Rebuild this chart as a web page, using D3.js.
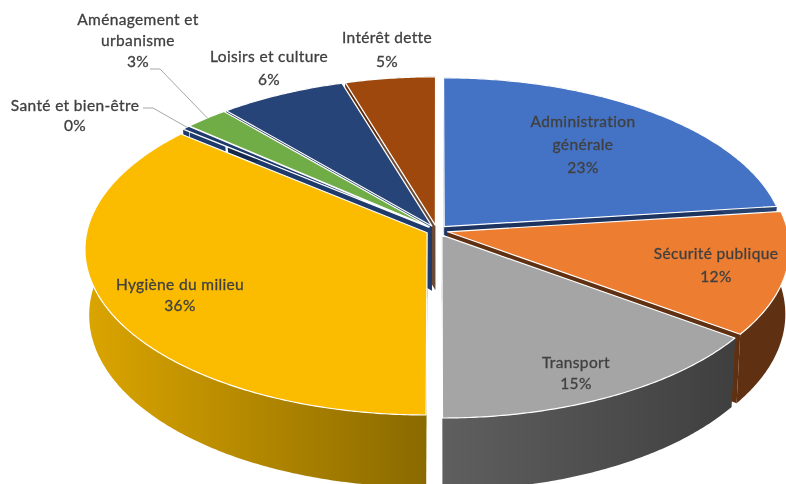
<!DOCTYPE html>
<html lang="fr">
<head>
<meta charset="utf-8">
<title>Répartition des dépenses</title>
<script src="https://cdn.jsdelivr.net/npm/d3@7"></script>
<style>
  html, body { margin: 0; padding: 0; background: #fff; }
  svg { display: block; filter: blur(0.45px); }
  .pie__label { font-family: Lato, "Open Sans", sans-serif; font-size: 15.5px; letter-spacing: 0.35px; fill: #404040; stroke: #404040; stroke-width: 0.3px; text-anchor: middle; }
</style>
</head>
<body>
<div id="chart"></div>
<script>
const categories = ["Administration générale", "Sécurité publique", "Transport", "Hygiène du milieu", "Santé et bien-être", "Aménagement et urbanisme", "Loisirs et culture", "Intérêt dette"]
// slice sizes as measured on the picture, printed percentages as written on it
const shares = [23, 12, 15, 36, 0.4, 2.3, 6.6, 4.7]
const percents = [23, 12, 15, 36, 0, 3, 6, 5]
const top_colors = ["#4472c4", "#ed7d31", "#a5a5a5", "#fbbc00", "#1f3b6b", "#70ad47", "#264478", "#9e480e"]

const width = 786, height = 484
const cx = 437, cy = 230.5
const radius_x = 340, radius_y = 164
const perspective = 0.0976, depth = 65, taper = 0.012, explode = 0.032

// label layout, one row per category: centre x and the baseline of each line
const label_layout = [
    { x: 583, lines: ["Administration", "générale"], y: 127, step: 23 },
    { x: 716, lines: ["Sécurité publique"], y: 259, step: 23 },
    { x: 576, lines: ["Transport"], y: 368, step: 21 },
    { x: 180, lines: ["Hygiène du milieu"], y: 290, step: 21 },
    { x: 75, lines: ["Santé et bien-être"], y: 111, step: 20 },
    { x: 138, lines: ["Aménagement et", "urbanisme"], y: 25, step: 21 },
    { x: 269, lines: ["Loisirs et culture"], y: 62, step: 23 },
    { x: 387, lines: ["Intérêt dette"], y: 43, step: 24 }
]
const leaders = { 4: [143, 108, 153, 108], 5: [150, 69, 160, 69] }

const svg = d3.select("#chart").append("svg")
    .attr("width", width)
    .attr("height", height)
    .attr("viewBox", `0 0 ${width} ${height}`)
const defs = svg.append("defs")

/* GRADIENTS FOR THE OUTER WALLS */
function wallGradient(id, x1, x2, from, to) {
    const gradient = defs.append("linearGradient")
        .attr("id", id)
        .attr("gradientUnits", "userSpaceOnUse")
        .attr("x1", x1).attr("x2", x2)
        .attr("y1", 0).attr("y2", 0)
    gradient.append("stop").attr("offset", "0%").attr("stop-color", from)
    gradient.append("stop").attr("offset", "100%").attr("stop-color", to)
    return `url(#${id})`
}
const wall_colors = [
    "#27426f",
    "#5f3011",
    wallGradient("wall-transport", 441, 735, "#5f5f5f", "#3f3f3f"),
    wallGradient("wall-hygiene", 86, 426, "#dba500", "#8a6a00"),
    "#1f3b6b",
    "#1f3b6b",
    "#162a4c",
    "#5e2a08"
]
// the two thinnest slices show no cut face in the reference
const face_colors = ["#1d3461", "#5f3011", "#4a4a4a", "#8a6a00", null, null, "#1f3b6b", "#6a4a35"]

const arcs = d3.pie().sort(null).value(d => d)(shares)
const path = d3.line()

/* unit disc (u right, v away from viewer), z 0 at the top and 1 at the bottom */
function project(u, v, z) {
    const s = 1 / (1 + perspective * v)
    return [
        cx + radius_x * u * s * (1 - taper * z),
        cy - radius_y * v * s + depth * z * s
    ]
}

function slicePoints(d) {
    const mid = (d.startAngle + d.endAngle) / 2
    const ox = explode * Math.sin(mid), oy = explode * Math.cos(mid)
    const n = Math.max(2, Math.ceil((d.endAngle - d.startAngle) / 0.01))
    const rim = d3.range(n + 1).map(i => {
        const a = d.startAngle + (d.endAngle - d.startAngle) * i / n
        return [ox + Math.sin(a), oy + Math.cos(a)]
    })
    return { apex: [ox, oy], rim }
}

/* back slices first */
const order = arcs.map((d, i) => i)
    .sort((a, b) => sortKey(b) - sortKey(a))
function sortKey(i) {
    const mid = (arcs[i].startAngle + arcs[i].endAngle) / 2
    return Math.cos(mid)
}

order.forEach(i => {
    const { apex, rim } = slicePoints(arcs[i])
    const first = rim[0], last = rim[rim.length - 1]
    const g = svg.append("g").attr("class", "pie__slice")

    // radial cut faces
    if (face_colors[i]) {
        ;[first, last].forEach(p => {
            g.append("path")
                .attr("d", path([
                    project(apex[0], apex[1], 0), project(p[0], p[1], 0),
                    project(p[0], p[1], 1), project(apex[0], apex[1], 1)
                ]) + "Z")
                .attr("fill", face_colors[i])
        })
    }

    // outer wall
    const wall = rim.map(p => project(p[0], p[1], 0))
        .concat(rim.slice().reverse().map(p => project(p[0], p[1], 1)))
    g.append("path")
        .attr("d", path(wall) + "Z")
        .attr("fill", wall_colors[i])

    // top
    const top = [project(apex[0], apex[1], 0)].concat(rim.map(p => project(p[0], p[1], 0)))
    g.append("path")
        .attr("d", path(top) + "Z")
        .attr("fill", top_colors[i])
        .attr("stroke", "#fff")
        .attr("stroke-width", 1.2)
        .attr("stroke-linejoin", "round")
})

/* LEADER LINES */
Object.keys(leaders).forEach(key => {
    const i = +key
    const { rim } = slicePoints(arcs[i])
    const p = rim[Math.floor(rim.length / 2)]
    const [x0, y0, x1, y1] = leaders[i]
    svg.append("path")
        .attr("d", path([[x0, y0], [x1, y1], project(p[0], p[1], 0)]))
        .attr("fill", "none")
        .attr("stroke", "#a6a6a6")
        .attr("stroke-width", 1)
})

/* LABELS */
categories.forEach((name, i) => {
    const layout = label_layout[i]
    const lines = layout.lines.concat(`${percents[i]}%`)
    svg.append("text")
        .attr("class", "pie__label")
        .selectAll("tspan")
        .data(lines)
        .enter()
        .append("tspan")
        .attr("x", layout.x)
        .attr("y", (d, j) => layout.y + j * layout.step)
        .text(d => d)
})
</script>
</body>
</html>
